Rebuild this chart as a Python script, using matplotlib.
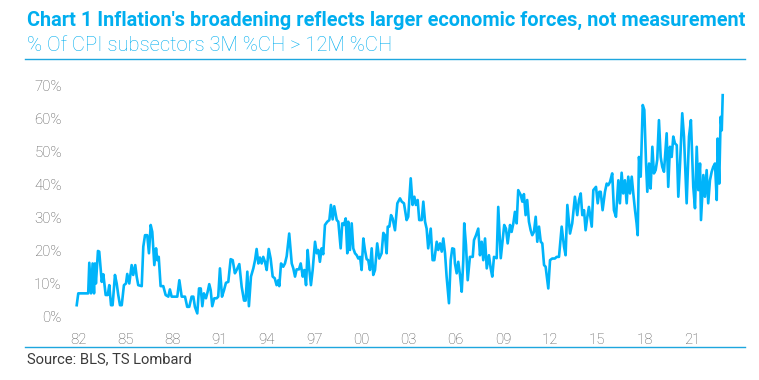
import matplotlib
matplotlib.use("Agg")
import matplotlib.pyplot as plt
from matplotlib.lines import Line2D

# ---- data ----
years = [1981.92, 1982.02, 1982.65, 1982.72, 1982.83, 1982.93, 1983.02, 1983.08, 1983.14, 1983.27,
         1983.35, 1983.51, 1983.61, 1983.76, 1983.89, 1983.99, 1984.10, 1984.20, 1984.35, 1984.46,
         1984.56, 1984.67, 1984.78, 1984.92, 1985.05, 1985.13, 1985.26, 1985.41, 1985.51, 1985.64,
         1985.73, 1985.83, 1986.05, 1986.15, 1986.26, 1986.40, 1986.51, 1986.62, 1986.72, 1986.85,
         1986.96, 1987.04, 1987.13, 1987.25, 1987.42, 1987.57, 1987.74, 1987.84, 1987.95, 1988.31,
         1988.44, 1988.59, 1988.80, 1988.94, 1989.07, 1989.22, 1989.33, 1989.43, 1989.58, 1989.69,
         1989.80, 1989.90, 1990.00, 1990.13, 1990.24, 1990.34, 1990.43, 1990.53, 1990.66, 1990.81,
         1990.91, 1991.02, 1991.15, 1991.28, 1991.40, 1991.55, 1991.70, 1991.83, 1991.97, 1992.08,
         1992.25, 1992.40, 1992.55, 1992.65, 1992.76, 1992.86, 1992.99, 1993.14, 1993.25, 1993.35,
         1993.46, 1993.56, 1993.67, 1993.77, 1993.88, 1993.99, 1994.12, 1994.24, 1994.37, 1994.50,
         1994.62, 1994.73, 1994.79, 1994.90, 1995.04, 1995.15, 1995.26, 1995.42, 1995.58, 1995.68,
         1995.79, 1995.89, 1996.04, 1996.15, 1996.28, 1996.38, 1996.49, 1996.59, 1996.70, 1996.80,
         1996.91, 1997.06, 1997.17, 1997.27, 1997.37, 1997.48, 1997.58, 1997.69, 1997.84, 1997.97,
         1998.07, 1998.18, 1998.28, 1998.44, 1998.54, 1998.69, 1998.79, 1998.90, 1999.01, 1999.11,
         1999.17, 1999.28, 1999.39, 1999.49, 1999.60, 1999.71, 1999.81, 1999.92, 2000.02, 2000.13,
         2000.23, 2000.34, 2000.44, 2000.55, 2000.66, 2000.76, 2000.87, 2001.01, 2001.14, 2001.29,
         2001.40, 2001.50, 2001.61, 2001.68, 2001.78, 2001.89, 2001.99, 2002.14, 2002.29, 2002.46,
         2002.57, 2002.71, 2002.88, 2002.98, 2003.14, 2003.26, 2003.37, 2003.47, 2003.58, 2003.68,
         2003.84, 2003.94, 2004.05, 2004.15, 2004.25, 2004.41, 2004.53, 2004.64, 2004.79, 2004.89,
         2005.00, 2005.11, 2005.21, 2005.32, 2005.42, 2005.57, 2005.68, 2005.78, 2005.89, 2005.95,
         2006.06, 2006.16, 2006.27, 2006.38, 2006.48, 2006.54, 2006.65, 2006.76, 2006.90, 2007.08,
         2007.16, 2007.29, 2007.43, 2007.54, 2007.65, 2007.75, 2007.86, 2007.97, 2008.11, 2008.22,
         2008.32, 2008.43, 2008.60, 2008.70, 2008.86, 2008.98, 2009.08, 2009.19, 2009.30, 2009.45,
         2009.55, 2009.66, 2009.76, 2009.87, 2009.97, 2010.13, 2010.23, 2010.33, 2010.44, 2010.54,
         2010.65, 2010.76, 2010.86, 2010.97, 2011.08, 2011.18, 2011.29, 2011.40, 2011.50, 2011.61,
         2011.71, 2011.88, 2011.99, 2012.13, 2012.30, 2012.41, 2012.56, 2012.73, 2012.88, 2012.98,
         2013.09, 2013.26, 2013.40, 2013.57, 2013.72, 2013.83, 2013.94, 2014.04, 2014.15, 2014.25,
         2014.36, 2014.46, 2014.64, 2014.74, 2014.91, 2015.02, 2015.12, 2015.21, 2015.33, 2015.48,
         2015.59, 2015.69, 2015.80, 2015.94, 2016.05, 2016.18, 2016.33, 2016.43, 2016.54, 2016.64,
         2016.75, 2016.86, 2016.96, 2017.07, 2017.18, 2017.28, 2017.39, 2017.49, 2017.56, 2017.64,
         2017.75, 2017.88, 2017.98, 2018.09, 2018.17, 2018.28, 2018.38, 2018.49, 2018.59, 2018.70,
         2018.80, 2018.91, 2019.02, 2019.12, 2019.23, 2019.40, 2019.50, 2019.61, 2019.72, 2019.82,
         2019.93, 2020.04, 2020.14, 2020.25, 2020.39, 2020.50, 2020.67, 2020.82, 2020.94, 2021.09,
         2021.20, 2021.31, 2021.41, 2021.52, 2021.58, 2021.73, 2021.83, 2021.94, 2022.04, 2022.15,
         2022.26, 2022.36, 2022.47, 2022.58, 2022.64, 2022.74, 2022.83, 2022.90, 2022.96]

share_pct = [3.3, 6.9, 6.9, 16.2, 6.9, 16.0, 6.9, 16.0, 9.9, 19.8,
             19.6, 10.4, 12.7, 6.4, 6.4, 9.4, 3.3, 3.3, 12.5, 9.9,
             6.4, 3.3, 3.3, 9.4, 9.9, 12.8, 9.9, 15.5, 12.5, 15.5,
             12.0, 9.4, 9.1, 21.1, 24.6, 24.6, 19.1, 27.7, 25.6, 15.5,
             20.6, 17.0, 18.0, 9.1, 9.1, 6.4, 5.9, 8.1, 5.9, 5.9,
             10.9, 5.9, 5.9, 2.8, 2.8, 5.9, 5.9, 2.8, 0.8, 8.4,
             8.4, 3.0, 6.9, 5.4, 7.4, 9.7, 7.9, 3.0, 5.4, 5.4,
             5.9, 14.5, 5.9, 7.9, 10.1, 10.4, 17.3, 17.0, 13.0, 14.0,
             15.8, 8.9, 4.7, 4.7, 13.5, 3.0, 12.0, 14.5, 17.0, 20.4,
             16.0, 17.8, 16.0, 18.0, 16.5, 14.0, 20.4, 17.5, 12.0, 11.5,
             9.4, 10.9, 9.1, 16.0, 15.0, 16.0, 18.2, 25.1, 16.0, 14.5,
             12.0, 14.2, 14.2, 16.0, 12.0, 14.0, 9.4, 20.1, 14.0, 9.4,
             14.0, 22.6, 19.1, 20.1, 16.5, 20.6, 18.8, 27.7, 28.7, 29.2,
             33.8, 29.4, 33.4, 29.2, 28.7, 20.6, 28.2, 27.7, 29.7, 19.1,
             28.7, 20.1, 28.2, 20.6, 19.1, 18.5, 17.5, 18.0, 14.0, 23.6,
             20.1, 17.3, 17.0, 14.0, 20.6, 12.5, 14.0, 22.1, 17.5, 19.1,
             25.3, 24.6, 19.1, 27.2, 27.2, 30.7, 29.7, 26.1, 34.3, 35.8,
             34.8, 34.3, 29.2, 30.2, 41.9, 33.8, 36.3, 33.8, 35.3, 29.2,
             29.2, 34.8, 28.7, 26.6, 20.6, 26.6, 17.0, 17.0, 22.6, 20.1,
             22.1, 19.6, 23.6, 19.1, 12.0, 3.9, 17.0, 20.6, 20.4, 16.0,
             13.0, 16.5, 12.5, 7.4, 17.0, 28.2, 21.6, 10.9, 18.0, 18.0,
             23.1, 24.6, 26.6, 18.5, 22.6, 17.0, 23.6, 14.5, 18.5, 14.5,
             12.0, 18.0, 17.6, 33.2, 17.6, 23.1, 27.7, 26.6, 22.1, 27.7,
             25.6, 28.2, 31.7, 28.2, 38.3, 36.8, 34.8, 37.1, 30.7, 35.3,
             28.7, 26.1, 24.6, 25.6, 30.2, 22.6, 27.2, 22.6, 22.1, 15.5,
             15.0, 8.4, 17.0, 17.5, 17.5, 18.0, 18.0, 27.2, 21.1, 18.5,
             33.8, 25.1, 28.2, 36.3, 30.7, 35.3, 37.3, 30.7, 32.2, 26.1,
             30.2, 33.2, 27.2, 38.3, 39.3, 34.3, 37.8, 37.8, 32.2, 37.8,
             40.3, 39.8, 40.8, 43.4, 32.2, 30.2, 41.3, 34.3, 43.6, 37.3,
             41.3, 34.3, 42.4, 37.3, 42.4, 37.3, 32.2, 28.2, 24.6, 48.4,
             42.4, 64.2, 62.7, 46.4, 37.8, 46.4, 38.8, 51.5, 43.4, 44.4,
             47.5, 59.6, 48.4, 45.4, 43.9, 55.6, 39.3, 51.5, 48.4, 54.6,
             52.5, 52.0, 36.3, 46.4, 61.7, 54.6, 34.3, 54.6, 59.6, 39.3,
             32.8, 51.5, 38.3, 46.4, 29.2, 42.9, 36.3, 44.4, 34.3, 41.3,
             43.9, 45.4, 46.4, 35.3, 54.0, 40.3, 60.6, 56.5, 67.2]

tick_years = [1982, 1985, 1988, 1991, 1994, 1997, 2000, 2003, 2006, 2009, 2012, 2015, 2018, 2021]
tick_labels = ["82", "85", "88", "91", "94", "97", "00", "03", "06", "09", "12", "15", "18", "21"]
y_ticks = [0, 10, 20, 30, 40, 50, 60, 70]
y_labels = ["0%", "10%", "20%", "30%", "40%", "50%", "60%", "70%"]

title = "Chart 1 Inflation's broadening reflects larger economic forces, not measurement"
subtitle = "% Of CPI subsectors 3M %CH > 12M %CH"
source = "Source: BLS, TS Lombard"

# ---- style ----
W, H = 759, 380
BLUE = "#00AEEF"
LINE_BLUE = "#00B4FA"
RULE = "#1EA6DE"
GREY = "#555555"
plt.rcParams["font.family"] = ["Roboto", "DejaVu Sans"]

fig = plt.figure(figsize=(W / 100, H / 100), dpi=100)

def fx(px):
    return px / W

def fy(py):
    return 1 - py / H

ax = fig.add_axes([fx(70.1), fy(325.9), fx(731.2) - fx(70.1), fy(76.1) - fy(325.9)])
ax.plot(years, share_pct, color=LINE_BLUE, lw=1.9, solid_joinstyle="round")
ax.set_xlim(1981.5, 2023.5)
ax.set_ylim(-3, 73)
ax.set_xticks(tick_years)
ax.set_xticklabels(tick_labels)
ax.set_yticks(y_ticks)
ax.set_yticklabels(y_labels)
for s in ax.spines.values():
    s.set_visible(False)
ax.tick_params(axis="both", length=0, labelsize=10.8, labelcolor=GREY)
ax.tick_params(axis="y", pad=6)
ax.tick_params(axis="x", pad=5)
for lab in ax.get_xticklabels() + ax.get_yticklabels():
    lab.set_fontweight("light")

# ---- header / footer ----
t1 = fig.text(fx(27), fy(26), title, color=BLUE, fontsize=13, fontweight="bold", va="baseline", ha="left")
t2 = fig.text(fx(27), fy(51), subtitle, color=BLUE, fontsize=13, fontweight="light", va="baseline", ha="left")
t3 = fig.text(fx(27), fy(363), source, color="#3a3a3a", fontsize=9.5, va="baseline", ha="left")

fig.canvas.draw()
r = fig.canvas.get_renderer()
for t, target in ((t1, 718), (t2, 362), (t3, 166)):
    w = t.get_window_extent(r).width
    t.set_fontsize(t.get_fontsize() * target / w)

fig.add_artist(Line2D([fx(25), fx(745)], [fy(58.5), fy(58.5)], color=RULE, lw=1.0, transform=fig.transFigure))
fig.add_artist(Line2D([fx(25), fx(745)], [fy(347), fy(347)], color=RULE, lw=1.0, transform=fig.transFigure))

fig.savefig("out.png", dpi=100)
